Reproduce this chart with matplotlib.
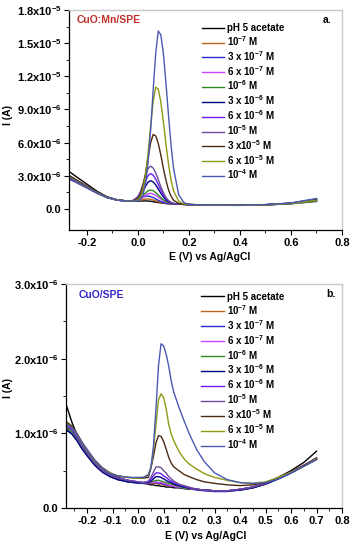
import matplotlib
matplotlib.use("Agg")
import matplotlib.pyplot as plt
import numpy as np

plt.rcParams['font.family'] = ['Liberation Sans', 'DejaVu Sans']
plt.rcParams['font.weight'] = 'bold'
plt.rcParams['mathtext.fontset'] = 'custom'
plt.rcParams['mathtext.rm'] = 'Liberation Sans:bold'
plt.rcParams['mathtext.it'] = 'Liberation Sans:bold:italic'
plt.rcParams['mathtext.bf'] = 'Liberation Sans:bold'

# ---------------- data ----------------
labels_a = ['pH 5 acetate', '10$^{-7}$ M', '3 x 10$^{-7}$ M', '6 x 10$^{-7}$ M', '10$^{-6}$ M',
            '3 x 10$^{-6}$ M', '6 x 10$^{-6}$ M', '10$^{-5}$ M', '3 x10$^{-5}$ M', '6 x 10$^{-5}$ M', '10$^{-4}$ M']
labels_b = labels_a
colors = ['#000000', '#b8651e', '#2a2ad0', '#cc44ff', '#2e8b22', '#000080',
          '#6a1bf0', '#6b4c9a', '#4b2a12', '#8f9a10', '#4a5ab0']

# Panel a: potential (V) and current (uA)
E_a = [-0.27, -0.24, -0.20, -0.16, -0.12, -0.08, -0.04, -0.02, 0.00, 0.01, 0.02, 0.03, 0.04, 0.05,
       0.06, 0.07, 0.08, 0.09, 0.10, 0.11, 0.12, 0.13, 0.14, 0.16, 0.18, 0.20, 0.25, 0.30, 0.40,
       0.50, 0.60, 0.70]
a_blank = [3.40, 2.90, 2.25, 1.60, 1.10, 0.82, .72, .71, .71, .72, .73, .73, .72, .70, .66, .62, .59, .55,
           .52, .49, .47, .46, .45, .43, .42, .40, .37, .35, .34, .38, .50, .85]
a_1e7 = [3.00, 2.60, 2.05, 1.50, 1.05, 0.80, .72, .72, .76, .81, .86, .90, .90, .87, .81, .74, .67, .60,
         .55, .51, .48, .46, .45, .43, .42, .40, .38, .36, .35, .39, .52, .80]
a_3e7 = [2.85, 2.50, 2.00, 1.48, 1.05, 0.80, .72, .73, .83, .94, 1.06, 1.15, 1.17, 1.12, 1.03, .91, .79,
         .68, .59, .53, .49, .47, .45, .43, .42, .40, .36, .34, .33, .37, .48, .70]
a_6e7 = [2.95, 2.55, 2.02, 1.50, 1.06, 0.81, .72, .72, .79, .90, 1.06, 1.24, 1.38, 1.42, 1.36, 1.23, 1.07,
         .90, .74, .62, .54, .50, .47, .43, .42, .40, .37, .35, .34, .38, .50, .78]
a_1e6 = [2.80, 2.45, 1.95, 1.45, 1.03, 0.80, .72, .72, .83, .98, 1.21, 1.45, 1.65, 1.72, 1.65, 1.48, 1.26,
         1.03, .83, .67, .57, .51, .47, .43, .42, .40, .36, .34, .33, .36, .47, .68]
a_3e6 = [2.75, 2.40, 1.92, 1.44, 1.03, 0.80, .72, .74, .94, 1.21, 1.61, 2.06, 2.43, 2.56, 2.45, 2.17, 1.80,
         1.42, 1.08, .82, .65, .55, .49, .43, .42, .40, .38, .36, .35, .39, .53, .90]
a_6e6 = [2.90, 2.52, 2.00, 1.48, 1.05, 0.81, .72, .75, 1.03, 1.39, 1.93, 2.53, 3.02, 3.20, 3.06, 2.70, 2.21,
         1.71, 1.27, .93, .71, .57, .50, .44, .42, .40, .37, .35, .34, .38, .51, .82]
a_1e5 = [2.70, 2.38, 1.90, 1.42, 1.02, 0.79, .73, .77, 1.12, 1.58, 2.26, 3.02, 3.65, 3.88, 3.70, 3.26, 2.65,
         2.02, 1.47, 1.04, .77, .60, .51, .44, .42, .40, .36, .34, .33, .37, .49, .75]
a_3e5 = [3.05, 2.62, 2.06, 1.52, 1.07, 0.82, .72, .72, .94, 1.32, 2.09, 3.24, 4.68, 5.99, 6.74, 6.61, 5.92,
         4.86, 3.67, 2.59, 1.73, 1.15, .79, .49, .42, .40, .38, .36, .35, .39, .52, .88]
a_6e5 = [2.90, 2.50, 1.98, 1.47, 1.05, 0.81, .72, .70, .83, 1.11, 1.77, 3.06, 5.05, 7.50, 9.75, 11.03, 10.83,
         9.67, 7.88, 5.88, 4.05, 2.61, 1.63, .69, .46, .40, .37, .35, .34, .38, .50, .80]
a_1e4 = [2.85, 2.48, 1.96, 1.46, 1.04, 0.80, .72, .70, .74, .89, 1.32, 2.28, 4.21, 7.15, 10.80, 14.13, 16.10,
         15.75, 14.04, 11.40, 8.46, 5.76, 3.63, 1.29, .58, .42, .38, .36, .35, .40, .55, .95]

# Panel b
E_b = [-0.28, -0.26, -0.24, -0.22, -0.20, -0.17, -0.14, -0.11, -0.08, -0.04, 0.00, 0.02, 0.04, 0.05, 0.06,
       0.07, 0.08, 0.09, 0.10, 0.11, 0.12, 0.13, 0.14, 0.16, 0.18, 0.20, 0.23, 0.26, 0.30, 0.35, 0.40,
       0.45, 0.50, 0.55, 0.60, 0.65, 0.70]
b_blank = [1.36, 1.15, 0.98, 0.85, 0.75, 0.62, 0.52, 0.45, 0.41, 0.37, .34, .33, .32, .31, .31, .30, .30,
           .29, .29, .28, .28, .28, .27, .27, .26, .25, .25, .24, .23, .23, .25, .28, .33, .41, .50, .61, .76]
b_1e7 = [1.08, 1.03, 0.93, 0.82, 0.72, 0.59, 0.49, 0.43, 0.39, 0.36, .34, .33, .33, .33, .33, .33, .32,
         .32, .31, .30, .30, .29, .29, .28, .27, .26, .25, .24, .23, .23, .25, .28, .33, .40, .48, .57, .66]
b_3e7 = [1.05, 1.00, 0.91, 0.80, 0.70, 0.58, 0.48, 0.42, 0.38, 0.35, .33, .33, .33, .34, .34, .34, .33,
         .33, .32, .31, .30, .30, .29, .28, .27, .26, .24, .23, .22, .22, .24, .27, .32, .39, .47, .56, .65]
b_6e7 = [1.10, 1.04, 0.94, 0.83, 0.73, 0.60, 0.50, 0.44, 0.40, 0.37, .35, .34, .33, .34, .34, .35, .34,
         .34, .33, .32, .31, .30, .29, .28, .27, .26, .25, .24, .23, .23, .25, .28, .33, .40, .48, .57, .67]
b_1e6 = [1.07, 1.02, 0.92, 0.81, 0.71, 0.59, 0.49, 0.43, 0.39, 0.36, .34, .34, .34, .35, .36, .37, .37,
         .36, .35, .34, .33, .32, .31, .29, .27, .26, .25, .24, .23, .23, .24, .27, .32, .39, .47, .56, .66]
b_3e6 = [1.04, 0.99, 0.90, 0.79, 0.70, 0.57, 0.48, 0.42, 0.38, 0.35, .34, .34, .34, .36, .39, .42, .42,
         .41, .39, .37, .35, .34, .32, .30, .28, .27, .25, .24, .23, .23, .24, .27, .32, .39, .47, .56, .65]
b_6e6 = [1.12, 1.06, 0.96, 0.84, 0.74, 0.61, 0.50, 0.44, 0.40, 0.37, .35, .34, .35, .38, .43, .47, .47,
         .46, .43, .41, .38, .36, .34, .31, .29, .27, .25, .24, .23, .23, .25, .28, .33, .40, .48, .57, .67]
b_1e5 = [1.09, 1.04, 0.94, 0.83, 0.73, 0.60, 0.50, 0.44, 0.40, 0.37, .35, .34, .36, .41, .48, .55, .55,
         .54, .50, .47, .42, .39, .36, .32, .30, .28, .25, .24, .23, .23, .25, .28, .33, .40, .48, .57, .66]
b_3e5 = [1.15, 1.10, 1.00, 0.88, 0.78, 0.64, 0.54, 0.47, 0.43, 0.41, .40, .40, .41, .53, .69, .87, .97,
         .96, .89, .79, .68, .60, .55, .50, .45, .42, .38, .35, .33, .31, .30, .31, .34, .40, .48, .57, .67]
b_6e5 = [1.13, 1.08, 0.99, 0.87, 0.77, 0.63, 0.53, 0.47, 0.43, 0.41, .40, .41, .45, .54, .77, 1.12, 1.45,
         1.53, 1.48, 1.33, 1.12, .99, .90, .76, .66, .59, .52, .46, .41, .37, .34, .33, .35, .41, .48, .56, .66]
b_1e4 = [1.12, 1.08, 0.99, 0.88, 0.78, 0.64, 0.53, 0.46, 0.43, 0.41, .41, .41, .44, .54, .82, 1.33, 1.91,
         2.20, 2.17, 2.06, 1.90, 1.70, 1.55, 1.35, 1.17, 1.00, .78, .62, .47, .38, .34, .33, .34, .39, .47,
         .56, .65]

series_a = [a_blank, a_1e7, a_3e7, a_6e7, a_1e6, a_3e6, a_6e6, a_1e5, a_3e5, a_6e5, a_1e4]
series_b = [b_blank, b_1e7, b_3e7, b_6e7, b_1e6, b_3e6, b_6e6, b_1e5, b_3e5, b_6e5, b_1e4]

yticks_a = [0.0, 3e-6, 6e-6, 9e-6, 1.2e-5, 1.5e-5, 1.8e-5]
yticklabels_a = ['0.0', '3.0x10$^{-6}$', '6.0x10$^{-6}$', '9.0x10$^{-6}$', '1.2x10$^{-5}$',
                 '1.5x10$^{-5}$', '1.8x10$^{-5}$']
xticks_a = [-0.2, 0.0, 0.2, 0.4, 0.6, 0.8]
xticklabels_a = ['-0.2', '0.0', '0.2', '0.4', '0.6', '0.8']
yticks_b = [0.0, 1e-6, 2e-6, 3e-6]
yticklabels_b = ['0.0', '1.0x10$^{-6}$', '2.0x10$^{-6}$', '3.0x10$^{-6}$']
xticks_b = [-0.2, -0.1, 0.0, 0.1, 0.2, 0.3, 0.4, 0.5, 0.6, 0.7, 0.8]
xticklabels_b = ['-0.2', '-0.1', '0.0', '0.1', '0.2', '0.3', '0.4', '0.5', '0.6', '0.7', '0.8']

UA = 1e-6

fig = plt.figure(figsize=(3.54, 5.50), dpi=100)
axa = fig.add_axes([69/354, 1-230/550, (342-69)/354, 220/550])
axb = fig.add_axes([66/354, 1-508/550, (342-66)/354, 224/550])

def style(ax, xlim, ylim, xt, xtl, yt, ytl, xminor, yminor, xlab_xy, ylab_xy):
    ax.set_xlim(*xlim)
    ax.set_ylim(*ylim)
    ax.set_xticks(xt)
    ax.set_xticklabels(xtl)
    ax.set_yticks(yt)
    ax.set_yticklabels(ytl)
    ax.set_xticks(xminor, minor=True)
    ax.set_yticks(yminor, minor=True)
    ax.tick_params(which='major', direction='out', length=3.5, width=0.8, labelsize=8, pad=2)
    ax.tick_params(which='minor', direction='out', length=2, width=0.6)
    for s in ['top', 'right']:
        ax.spines[s].set_color('#c8c8c8')
        ax.spines[s].set_linewidth(1.0)
    for s in ['left', 'bottom']:
        ax.spines[s].set_color('#000000')
        ax.spines[s].set_linewidth(0.9)
    ax.set_xlabel('E (V) vs Ag/AgCl', fontsize=7.5, fontweight='bold')
    ax.set_ylabel('I (A)', fontsize=7.5, fontweight='bold', va='center')
    ax.xaxis.set_label_coords(*xlab_xy)
    ax.yaxis.set_label_coords(*ylab_xy)

for ys, c, lab in zip(series_a, colors, labels_a):
    axa.plot(E_a, np.array(ys) * UA, color=c, lw=1.0, label=lab)
for ys, c, lab in zip(series_b, colors, labels_b):
    axb.plot(E_b, np.array(ys) * UA, color=c, lw=1.0, label=lab)

style(axa, (-0.27, 0.8), (-1.9e-6, 1.8e-5), xticks_a, xticklabels_a, yticks_a, yticklabels_a,
      [-0.1, 0.1, 0.3, 0.5, 0.7], [1.5e-6, 4.5e-6, 7.5e-6, 1.05e-5, 1.35e-5, 1.65e-5],
      (0.515, -0.1), (-0.222, 0.523))
style(axb, (-0.283, 0.8), (0.0, 3e-6), xticks_b, xticklabels_b, yticks_b, yticklabels_b,
      [-0.25, -0.15, -0.05, 0.05, 0.15, 0.25, 0.35, 0.45, 0.55, 0.65, 0.75], [0.5e-6, 1.5e-6, 2.5e-6],
      (0.505, -0.103), (-0.210, 0.536))

for ax, anchor, ls in [(axa, (0.486, 0.94), 0.105), (axb, (0.49, 0.965), 0.115)]:
    ax.legend(loc='upper left', bbox_to_anchor=anchor, frameon=False, fontsize=7,
              handlelength=2.3, handletextpad=0.35, labelspacing=ls, borderpad=0,
              borderaxespad=0)

axa.text(0.028, 0.955, 'CuO:Mn/SPE', transform=axa.transAxes, color='#c0302a', fontsize=7.5,
         fontweight='bold', va='center', ha='left')
axb.text(0.045, 0.951, 'CuO/SPE', transform=axb.transAxes, color='#3328c8', fontsize=7.5,
         fontweight='bold', va='center', ha='left')
axa.text(0.944, 0.955, 'a.', transform=axa.transAxes, fontsize=7.5, fontweight='bold', va='center', ha='center')
axb.text(0.96, 0.955, 'b.', transform=axb.transAxes, fontsize=7.5, fontweight='bold', va='center', ha='center')

fig.savefig('out.png', dpi=100)
